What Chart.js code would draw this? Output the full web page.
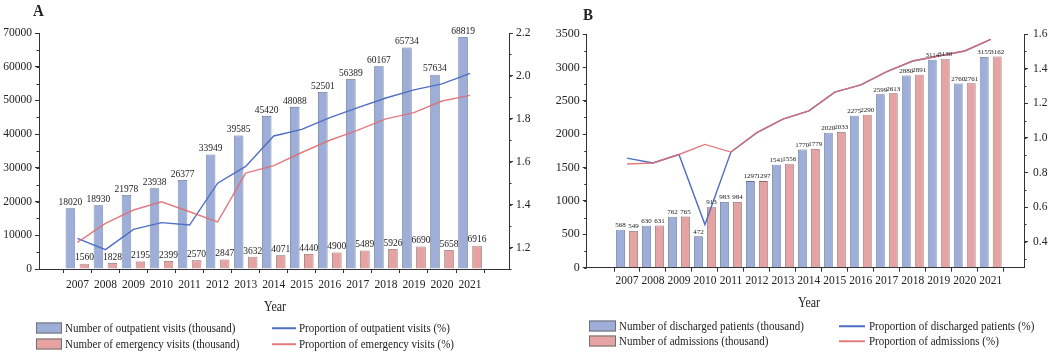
<!DOCTYPE html>
<html>
<head>
<meta charset="utf-8">
<script src="https://cdn.jsdelivr.net/npm/chart.js@4.4.1/dist/chart.umd.min.js"></script>
<style>
  body { margin: 0; background: #fff; width: 1052px; height: 353px; position: relative; overflow: hidden;
         font-family: "Liberation Serif", "Times New Roman", serif; color: #222; }
  canvas { position: absolute; top: 0; }
  #chartA { left: 0; }
  #chartB { left: 540px; }
  .txt { position: absolute; white-space: nowrap; line-height: 1; }
  .letter { font-weight: bold; font-size: 15px; transform: scaleY(1.15); transform-origin: top left; }
  .axt { font-size: 12px; transform: translateX(-50%) scaleY(1.2); }
  .leg { font-size: 11px; transform: translateY(-50%) scaleY(1.22); }
  .box { position: absolute; height: 9px; transform: translateY(-50%); border: 1px solid #707070; }
  .ln { position: absolute; height: 1.5px; transform: translateY(-50%); }
</style>
</head>
<body>
<canvas id="chartA" width="540" height="300"></canvas>
<canvas id="chartB" width="512" height="300"></canvas>

<div class="txt letter" style="left:33px; top:2px;">A</div>
<div class="txt letter" style="left:583px; top:6px;">B</div>
<div class="txt axt" style="left:275px; top:300px;">Year</div>
<div class="txt axt" style="left:809px; top:296px;">Year</div>

<!-- legend A -->
<div class="box" style="left:36px; top:328px; width:24px; background:#9daed8;"></div>
<div class="txt leg" style="left:65px; top:328px;">Number of outpatient visits (thousand)</div>
<div class="box" style="left:36px; top:344px; width:24px; background:#e6a3a3;"></div>
<div class="txt leg" style="left:65px; top:344px;">Number of emergency visits (thousand)</div>
<div class="ln" style="left:272px; top:328px; width:24px; background:#4f6fc4;"></div>
<div class="txt leg" style="left:299px; top:328px;">Proportion of outpatient visits (%)</div>
<div class="ln" style="left:272px; top:344px; width:24px; background:#e47c7c;"></div>
<div class="txt leg" style="left:299px; top:344px;">Proportion of emergency visits (%)</div>

<!-- legend B -->
<div class="box" style="left:589px; top:326px; width:25px; background:#9daed8;"></div>
<div class="txt leg" style="left:619px; top:326px;">Number of discharged patients (thousand)</div>
<div class="box" style="left:589px; top:341px; width:25px; background:#e6a3a3;"></div>
<div class="txt leg" style="left:619px; top:341px;">Number of admissions (thousand)</div>
<div class="ln" style="left:839px; top:326px; width:26px; background:#4f6fc4;"></div>
<div class="txt leg" style="left:869px; top:326px;">Proportion of discharged patients (%)</div>
<div class="ln" style="left:839px; top:341px; width:26px; background:#e47c7c;"></div>
<div class="txt leg" style="left:869px; top:341px;">Proportion of admissions (%)</div>

<script>
// Shared categories
const years = [2007, 2008, 2009, 2010, 2011, 2012, 2013, 2014, 2015, 2016, 2017, 2018, 2019, 2020, 2021];

// Panel A
const outpatientVisits = [18020, 18930, 21978, 23938, 26377, 33949, 39585, 45420, 48088, 52501, 56389, 60167, 65734, 57634, 68819];
const emergencyVisits = [1560, 1828, 2195, 2399, 2570, 2847, 3632, 4071, 4440, 4900, 5489, 5926, 6690, 5658, 6916];
const outpatientPct = [1.243, 1.19, 1.285, 1.316, 1.305, 1.50, 1.578, 1.72, 1.751, 1.806, 1.852, 1.897, 1.935, 1.963, 2.012];
const emergencyPct = [1.224, 1.313, 1.375, 1.413, 1.367, 1.32, 1.547, 1.582, 1.643, 1.70, 1.747, 1.80, 1.829, 1.883, 1.909];
const leftTicksA = [0, 10000, 20000, 30000, 40000, 50000, 60000, 70000];
const rightTicksA = [1.2, 1.4, 1.6, 1.8, 2.0, 2.2];

// Panel B
const dischargedPatients = [568, 630, 762, 472, 983, 1297, 1541, 1770, 2020, 2275, 2599, 2880, 3114, 2760, 3155];
const admissions = [549, 631, 765, 913, 984, 1297, 1556, 1779, 2033, 2290, 2613, 2891, 3130, 2761, 3162];
const dischargedPct = [0.883, 0.855, 0.904, 0.499, 0.918, 1.03, 1.108, 1.156, 1.264, 1.306, 1.383, 1.444, 1.473, 1.502, 1.569];
const admissionsPct = [0.849, 0.855, 0.904, 0.962, 0.918, 1.03, 1.108, 1.156, 1.264, 1.306, 1.383, 1.444, 1.473, 1.502, 1.569];
const leftTicksB = [0, 500, 1000, 1500, 2000, 2500, 3000, 3500];
const rightTicksB = [0.4, 0.6, 0.8, 1.0, 1.2, 1.4, 1.6];

const BLUE_BAR = '#9daed8';
const RED_BAR = '#e6a3a3';
const BLUE_LINE = '#4f6fc4';
const RED_LINE = 'rgba(224, 110, 115, 0.9)';
const AXIS = '#333';

function pts(values) {
    return years.map((yr, i) => ({ x: yr, y: values[i] }));
}

// Numbers on top of bars
const barLabels = {
    id: 'barLabels',
    afterDatasetsDraw(chart, args, opts) {
        const ctx = chart.ctx;
        ctx.save();
        ctx.font = opts.font;
        ctx.fillStyle = '#222';
        ctx.textAlign = 'center';
        ctx.textBaseline = 'bottom';
        chart.data.datasets.forEach((ds, i) => {
            if (ds.type !== 'bar') return;
            chart.getDatasetMeta(i).data.forEach((bar, j) => {
                ctx.fillText(String(ds.data[j].y), bar.x, bar.y - 1);
            });
        });
        ctx.restore();
    }
};

// Small minor ticks between the major ones
const minorTicks = {
    id: 'minorTicks',
    afterDraw(chart, args, opts) {
        const ctx = chart.ctx;
        ctx.save();
        ctx.strokeStyle = AXIS;
        ctx.lineWidth = 1;
        Object.keys(opts.steps || {}).forEach(id => {
            const sc = chart.scales[id];
            const step = opts.steps[id];
            const x0 = sc.position === 'left' ? sc.right : sc.left;
            const dir = sc.position === 'left' ? -1 : 1;
            const start = Math.ceil(sc.min / step - 1e-6);
            for (let k = start; k * step <= sc.max + 1e-9; k++) {
                const v = k * step;
                const y = Math.round(sc.getPixelForValue(v)) + 0.5;
                ctx.beginPath();
                ctx.moveTo(x0, y);
                ctx.lineTo(x0 + dir * 2.5, y);
                ctx.stroke();
            }
        });
        ctx.restore();
    }
};

function yScale(position, min, max, tickList, width, fontSize, pad, fmt) {
    return {
        type: 'linear',
        position: position,
        min: min,
        max: max,
        afterBuildTicks: sc => { sc.ticks = tickList.map(v => ({ value: v })); },
        afterFit: sc => { sc.width = width; },
        grid: { drawOnChartArea: false, tickLength: 4, color: AXIS },
        border: { color: AXIS, width: 1 },
        ticks: {
            color: '#222',
            padding: pad,
            font: { family: 'Liberation Serif', size: fontSize },
            callback: fmt
        }
    };
}

function makeChart(id, cfg) {
    return new Chart(document.getElementById(id), {
        type: 'bar',
        data: {
            datasets: [
                { type: 'line', data: pts(cfg.pct2), borderColor: RED_LINE, borderWidth: 1.4, pointRadius: 0, yAxisID: 'y2', order: 0 },
                { type: 'line', data: pts(cfg.pct1), borderColor: BLUE_LINE, borderWidth: 1.4, pointRadius: 0, yAxisID: 'y2', order: 1 },
                { type: 'bar', data: pts(cfg.bar1), backgroundColor: BLUE_BAR, borderColor: '#66708a', borderWidth: 0.8, yAxisID: 'y', order: 2,
                  categoryPercentage: 1.0, barPercentage: 0.68 },
                { type: 'bar', data: pts(cfg.bar2), backgroundColor: RED_BAR, borderColor: '#8a6b6b', borderWidth: 0.8, yAxisID: 'y', order: 3,
                  categoryPercentage: 1.0, barPercentage: 0.68 }
            ]
        },
        options: {
            responsive: false,
            animation: false,
            maintainAspectRatio: false,
            layout: { padding: { top: cfg.top, left: 0, right: 0, bottom: 0 } },
            plugins: {
                legend: { display: false },
                tooltip: { enabled: false },
                barLabels: { font: cfg.labelFont },
                minorTicks: { steps: { y: cfg.minorY, y2: 0.1 } }
            },
            scales: {
                x: {
                    type: 'linear',
                    min: cfg.xMin,
                    max: cfg.xMax,
                    afterBuildTicks: sc => { sc.ticks = years.map(v => ({ value: v })); },
                    afterFit: sc => { sc.height = cfg.xHeight; },
                    grid: { drawOnChartArea: false, tickLength: 4, color: AXIS },
                    border: { color: AXIS, width: 1 },
                    ticks: {
                        color: '#222',
                        padding: cfg.xPad,
                        maxRotation: 0,
                        autoSkip: false,
                        font: { family: 'Liberation Serif', size: 11.5 },
                        callback: v => String(v)
                    }
                },
                y: yScale('left', 0, cfg.leftMax, cfg.leftTicks, cfg.leftW, cfg.leftFont, cfg.leftPad, v => String(v)),
                y2: yScale('right', cfg.rightMin, cfg.rightMax, cfg.rightTicks, cfg.rightW, 11.5, cfg.rightPad, v => v.toFixed(1))
            }
        },
        plugins: [barLabels, minorTicks]
    });
}

makeChart('chartA', {
    bar1: outpatientVisits, bar2: emergencyVisits, pct1: outpatientPct, pct2: emergencyPct,
    leftMax: 70000, leftTicks: leftTicksA, rightMin: 1.1, rightMax: 2.2, rightTicks: rightTicksA,
    minorY: 5000, xMin: 2006.19, xMax: 2021.83,
    top: 33, xHeight: 31, xPad: 5, leftW: 39, rightW: 31, leftFont: 11.5, leftPad: 3, rightPad: 3,
    labelFont: '9.5px "Liberation Serif"'
});

makeChart('chartB', {
    bar1: dischargedPatients, bar2: admissions, pct1: dischargedPct, pct2: admissionsPct,
    leftMax: 3500, leftTicks: leftTicksB, rightMin: 0.25, rightMax: 1.6, rightTicks: rightTicksB,
    minorY: 250, xMin: 2006.01, xMax: 2021.72,
    top: 34, xHeight: 32.3, xPad: 2, leftW: 46.7, rightW: 28, leftFont: 12, leftPad: 3, rightPad: 5,
    labelFont: '7px "Liberation Serif"'
});
</script>
</body>
</html>
